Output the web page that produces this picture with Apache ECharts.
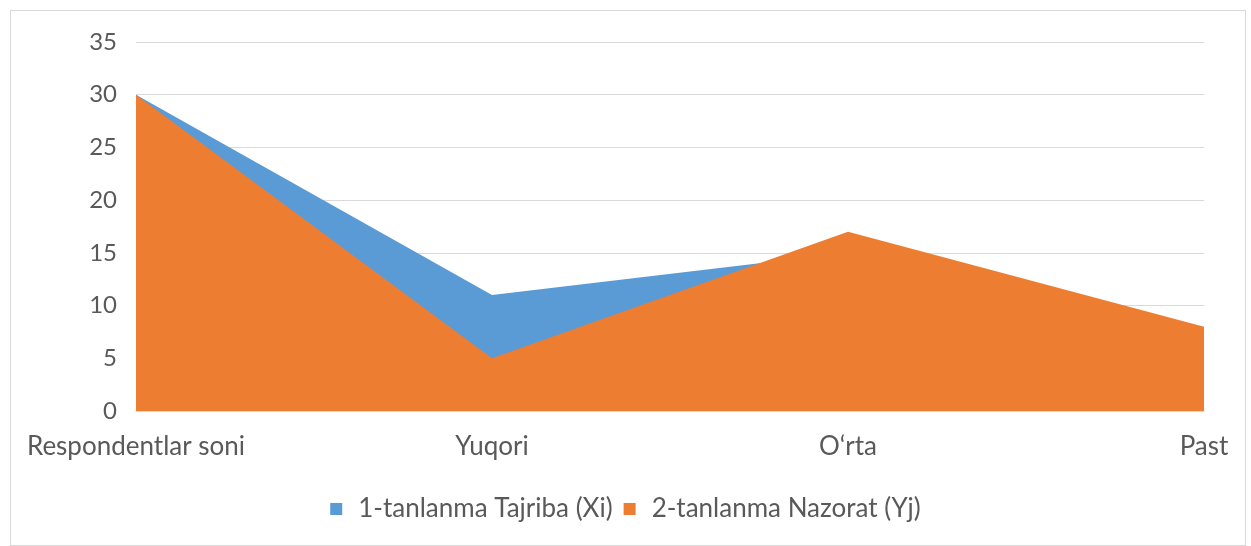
<!DOCTYPE html>
<html>
<head>
<meta charset="utf-8">
<script src="https://cdn.jsdelivr.net/npm/echarts@6/dist/echarts.min.js"></script>
<style>
  html, body { margin: 0; padding: 0; background: #fff; }
  #frame {
    position: absolute; left: 10px; top: 10px;
    width: 1234px; height: 534px;
    border: 1px solid #d9d9d9;
  }
  #chart { position: absolute; left: 0; top: 0; width: 1251px; height: 546px; }
</style>
</head>
<body>
<div id="frame"></div>
<div id="chart"></div>
<script>
const categories = ['Respondentlar soni', 'Yuqori', 'O\u2018rta', 'Past']
const seriesNames = ['1-tanlanma Tajriba (Xi)', '2-tanlanma Nazorat (Yj)']
const tajriba = [30, 11, 15, 4]
const nazorat = [30, 5, 17, 8]
const yTicks = [0, 5, 10, 15, 20, 25, 30, 35]

const textColor = '#595959'
const fontFamily = 'Lato, "Open Sans", sans-serif'

const myChart = echarts.init(document.getElementById('chart'))

myChart.setOption({
  animation: false,
  textStyle: { fontFamily: fontFamily },
  grid: {
    left: 136,
    right: 47,
    top: 42,
    bottom: 135
  },
  legend: {
    bottom: 19,
    left: 'center',
    itemWidth: 12,
    itemHeight: 12,
    itemGap: 11,
    icon: 'rect',
    textStyle: {
      color: textColor,
      fontSize: 26,
      fontFamily: fontFamily,
      padding: [0, 0, 0, 11]
    },
    data: seriesNames
  },
  xAxis: {
    type: 'category',
    boundaryGap: false,
    data: categories,
    axisLine: { show: true, lineStyle: { color: '#d9d9d9' } },
    axisTick: { show: false },
    axisLabel: { color: textColor, fontSize: 26, margin: 23, fontFamily: fontFamily }
  },
  yAxis: {
    type: 'value',
    min: yTicks[0],
    max: yTicks[yTicks.length - 1],
    interval: 5,
    axisLine: { show: false },
    axisTick: { show: false },
    axisLabel: { color: textColor, fontSize: 24, margin: 19, fontFamily: fontFamily },
    splitLine: { lineStyle: { color: '#d9d9d9', width: 1 } }
  },
  series: [
    {
      name: seriesNames[0],
      type: 'line',
      data: tajriba,
      symbol: 'none',
      lineStyle: { width: 0 },
      itemStyle: { color: '#5B9BD5' },
      areaStyle: { color: '#5B9BD5', opacity: 1 }
    },
    {
      name: seriesNames[1],
      type: 'line',
      data: nazorat,
      symbol: 'none',
      lineStyle: { width: 0 },
      itemStyle: { color: '#ED7D31' },
      areaStyle: { color: '#ED7D31', opacity: 1 }
    }
  ]
})
</script>
</body>
</html>
